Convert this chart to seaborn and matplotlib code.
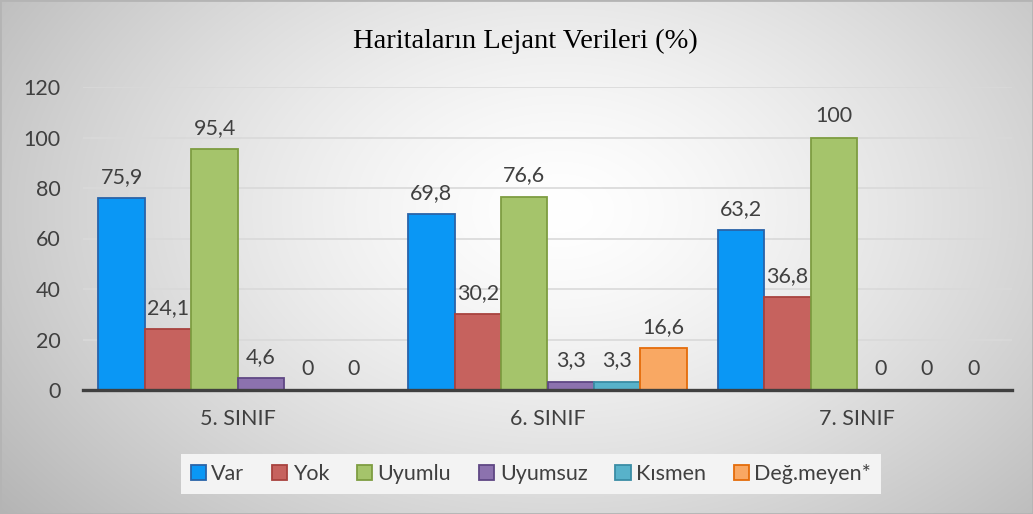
import numpy as np
import pandas as pd
import matplotlib
matplotlib.use("Agg")
import matplotlib.pyplot as plt
from matplotlib.patches import Patch
import seaborn as sns

# Data
classes = ["5. SINIF", "6. SINIF", "7. SINIF"]
series = ["Var", "Yok", "Uyumlu", "Uyumsuz", "Kısmen", "Değ.meyen*"]
var_vals = [75.9, 69.8, 63.2]
yok_vals = [24.1, 30.2, 36.8]
uyumlu_vals = [95.4, 76.6, 100]
uyumsuz_vals = [4.6, 3.3, 0]
kismen_vals = [0, 3.3, 0]
degmeyen_vals = [0, 16.6, 0]
y_ticks = [0, 20, 40, 60, 80, 100, 120]

values = [var_vals, yok_vals, uyumlu_vals, uyumsuz_vals, kismen_vals, degmeyen_vals]
df = pd.DataFrame(
    [(c, s, v[i]) for s, v in zip(series, values) for i, c in enumerate(classes)],
    columns=["sinif", "seri", "deger"],
)

fills = ["#0A97F5", "#C6625E", "#A5C46B", "#8C72AE", "#58B2CA", "#F9A863"]
edges = ["#2A63A8", "#A8423E", "#7E9D41", "#5F4784", "#3A8DA5", "#E46C0A"]

sns.set_theme(style="white")
plt.rcParams["font.family"] = ["Lato", "DejaVu Sans"]

W, H = 1033, 514
fig = plt.figure(figsize=(W / 100, H / 100), dpi=100)

# radial grey background
bg = fig.add_axes([0, 0, 1, 1], zorder=-10)
yy, xx = np.mgrid[0:H, 0:W]
d = np.sqrt(((xx - 560) / 620.0) ** 2 + ((yy - 210) / 420.0) ** 2)
shade = 1.0 - 0.24 * np.clip(d, 0, 1.3) ** 1.4
bg.imshow(np.dstack([shade] * 3), aspect="auto", extent=[0, 1, 0, 1], origin="upper")
bg.set_axis_off()
bg.add_patch(plt.Rectangle((0, 0), 1, 1, transform=bg.transAxes, fill=False,
                           edgecolor="#B4B4B4", linewidth=2))

ax = fig.add_axes([83 / W, 1 - 390 / H, (1012 - 83) / W, (390 - 87) / H])
ax.patch.set_alpha(0)

sns.barplot(data=df, x="sinif", y="deger", hue="seri", hue_order=series,
            order=classes, palette=fills, width=0.9, saturation=1,
            legend=False, ax=ax, zorder=3)

def fmt(v):
    return str(int(v)) if float(v).is_integer() else f"{v:.1f}".replace(".", ",")

for cont, ec, vals in zip(ax.containers, edges, values):
    for p in cont.patches:
        p.set_edgecolor(ec)
        p.set_linewidth(1.3)
    ax.bar_label(cont, labels=[fmt(v) for v in vals], padding=8,
                 fontsize=15.5, color="#404040")

ax.set_xlim(-0.5, 2.5)
ax.set_ylim(0, 120)
ax.set_yticks(y_ticks)
ax.set_xlabel("")
ax.set_ylabel("")
ax.grid(axis="y", color="#D9D9D9", linewidth=1.2, zorder=0)
ax.set_axisbelow(True)
for s in ["left", "right", "top"]:
    ax.spines[s].set_visible(False)
ax.spines["bottom"].set_color("#404040")
ax.spines["bottom"].set_linewidth(2.4)
ax.spines["bottom"].set_zorder(5)
ax.tick_params(axis="y", length=0, pad=16, labelsize=15.5, labelcolor="#404040")
ax.tick_params(axis="x", length=0, pad=14, labelsize=15.5, labelcolor="#404040")

fig.text(525 / W, 1 - 41 / H, "Haritaların Lejant Verileri (%)",
         family="Liberation Serif", fontsize=20.5, color="#000000",
         ha="center", va="center")

handles = [Patch(facecolor=f, edgecolor=e, linewidth=1.3) for f, e in zip(fills, edges)]
leg = fig.legend(handles, series, loc="center", bbox_to_anchor=(531 / W, 1 - 474 / H),
                 ncol=6, frameon=True, fontsize=15.5, handlelength=0.7,
                 handleheight=0.7, handletextpad=0.25, columnspacing=1.3,
                 borderpad=0.45)
leg.get_frame().set_facecolor("#F3F3F3")
leg.get_frame().set_edgecolor("none")
leg.get_frame().set_alpha(1)
leg.get_frame().set_boxstyle("square", pad=0)
for t in leg.get_texts():
    t.set_color("#404040")

fig.savefig("out.png", dpi=100)
